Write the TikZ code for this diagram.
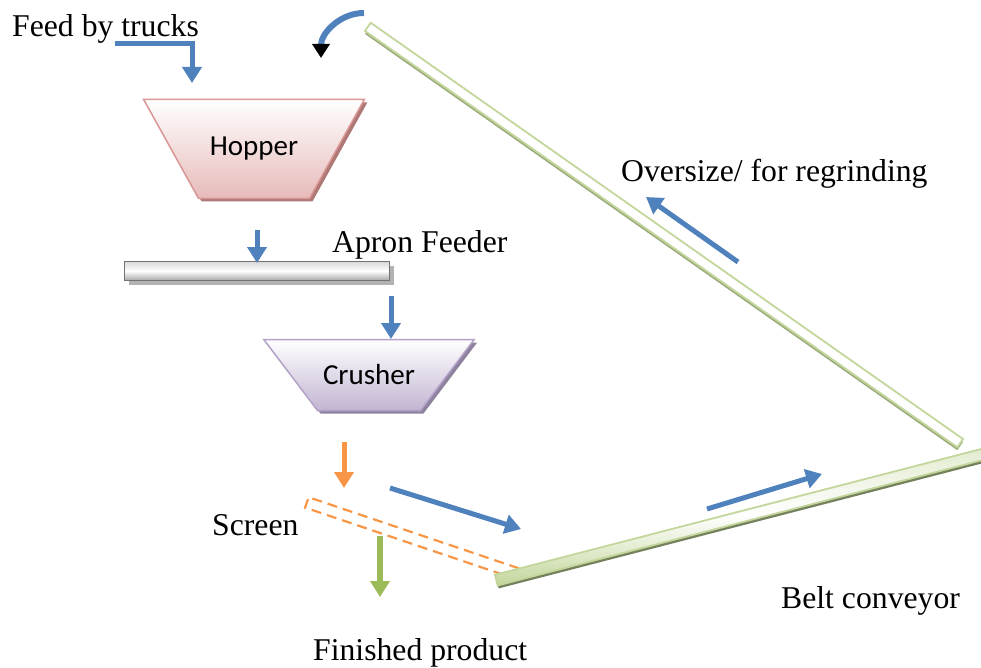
\documentclass[tikz,border=0pt]{standalone}
\usepackage{fontspec}
\setmainfont{Liberation Serif}
\newfontfamily\boxfont{Carlito}
\usetikzlibrary{arrows.meta,shapes.geometric,shadows}

\definecolor{flowblue}{HTML}{4F81BD}
\definecolor{flowgreen}{HTML}{9BBB59}
\definecolor{floworange}{HTML}{F79646}
\definecolor{beltgreen}{HTML}{C3D69B}
\definecolor{hoprose}{HTML}{D99694}
\definecolor{crushlav}{HTML}{B3A2C7}

\begin{document}
\begin{tikzpicture}[x=1pt,y=-1pt,
    flow/.style={line width=5pt,flowblue,-{Triangle[width=19pt,length=16pt]}},
    tag/.style={inner sep=0pt,anchor=base west,font=\fontsize{31.7}{38}\selectfont},
    bin/.style={trapezium,trapezium stretches=true,shape border rotate=180,draw,line width=1.5pt,
                inner sep=0pt,font=\boxfont\fontsize{29}{35}\selectfont},
    belt/.style={rectangle,draw=beltgreen,line width=1.8pt,inner sep=0pt}]
	\useasboundingbox (0,0) rectangle (981,668);

	% machines
	\node[bin,draw=hoprose,top color=white,bottom color=hoprose!65,
	      drop shadow={opacity=1,fill=hoprose!80!black,shadow xshift=3pt,shadow yshift=-3pt},
	      minimum width=221pt,minimum height=99pt,trapezium angle=28] (hop) at (254,149) {Hopper};
	\node[rectangle,draw=black!55,line width=1.5pt,top color=black!15,bottom color=black!35,middle color=white,
	      drop shadow={opacity=1,fill=black!30,shadow xshift=4pt,shadow yshift=-4pt},
	      minimum width=265pt,minimum height=19pt,inner sep=0pt] (apron) at (257,271) {};
	\node[bin,draw=crushlav,top color=white,bottom color=crushlav!80,
	      drop shadow={opacity=1,fill=crushlav!80!black,shadow xshift=3pt,shadow yshift=-3pt},
	      minimum width=211pt,minimum height=71pt,trapezium angle=23] (crush) at (369,375) {Crusher};
	\node[rectangle,draw=floworange,line width=2.2pt,dashed,dash pattern=on 10pt off 6pt,
	      minimum width=222pt,minimum height=11pt,inner sep=0pt,rotate=-18.7] (scr) at (412,538) {};

	% conveyors
	\node[belt,fill=white,minimum width=724pt,minimum height=10pt,rotate=-35.1,
	      drop shadow={opacity=1,fill=beltgreen!80!black,shadow xshift=0pt,shadow yshift=-3pt}] (over) at (664,235) {};
	\node[belt,top color=beltgreen!50,bottom color=beltgreen,middle color=white,minimum width=520pt,minimum height=11pt,rotate=14.5,
	      drop shadow={opacity=1,fill=beltgreen!60!black,shadow xshift=1pt,shadow yshift=-3pt}] (conv) at (748,515) {};

	% arrow ends
	\coordinate (f1) at (115,44);
	\coordinate (f2) at (192,83);
	\coordinate (a1) at (257,230);
	\coordinate (a2) at (257,263);
	\coordinate (c1) at (391,296);
	\coordinate (c2) at (391,339);
	\coordinate (s1) at (344,442);
	\coordinate (s2) at (344,488);
	\coordinate (p1) at (380,536);
	\coordinate (p2) at (380,597);
	\coordinate (b1) at (390,488);
	\coordinate (b2) at (521,529);
	\coordinate (b3) at (707,509);
	\coordinate (b4) at (822,474);
	\coordinate (o1) at (738,262);
	\coordinate (o2) at (646,197);
	\coordinate (r1) at (364,13);
	\coordinate (r2) at (321,58);

	\draw[flow] (f1) -| (f2);
	\draw[flow] (a1) -- (a2);
	\draw[flow] (c1) -- (c2);
	\draw[flow,floworange] (s1) -- (s2);
	\draw[flow,flowgreen,line width=6pt] (p1) -- (p2);
	\draw[flow] (b1) -- (b2);
	\draw[flow] (b3) -- (b4);
	\draw[flow] (o1) -- (o2);
	\draw[line width=6pt,flowblue,-{Triangle[width=17pt,length=14pt,color=black]}]
		(r1) to[out=180,in=90] (r2);

	% labels
	\node[tag] (feed) at (12,37) {Feed by trucks};
	\node[tag] (apl) at (332,252) {Apron Feeder};
	\node[tag] (ovl) at (621,182) {Oversize/ for regrinding};
	\node[tag] (scl) at (212,535) {Screen};
	\node[tag] (bcl) at (781,608) {Belt conveyor};
	\node[tag] (fpl) at (313,660) {Finished product};
\end{tikzpicture}
\end{document}
